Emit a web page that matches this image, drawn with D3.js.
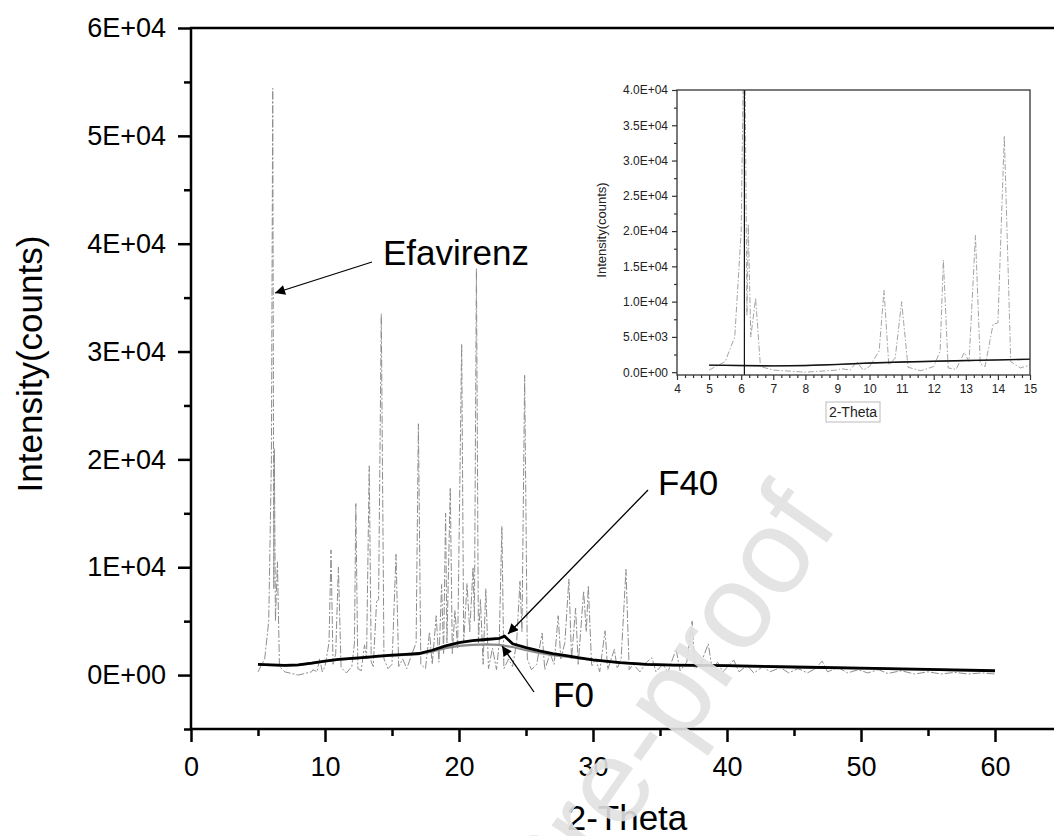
<!DOCTYPE html>
<html>
<head>
<meta charset="utf-8">
<script src="https://cdn.jsdelivr.net/npm/d3@7"></script>
<style>
    body { margin: 0; background: #fff; }
    svg { display: block; font-family: "Liberation Sans", Arial, sans-serif; }
</style>
</head>
<body>
<div id="chart"></div>
<script>
// Efavirenz powder pattern (2-theta, counts)
const effTheta = [5.0, 5.5, 5.8, 6.0, 6.1, 6.18, 6.22, 6.3, 6.45, 6.6, 7.0, 8.0, 9.0, 9.1, 9.4, 9.6, 9.8, 10.0, 10.3, 10.45,
    10.6, 10.8, 11.0, 11.2, 11.6, 12.0, 12.2, 12.3, 12.45, 12.7, 12.95, 13.1, 13.3, 13.45, 13.6, 13.85, 14.0, 14.2, 14.4, 14.7,
    15.0, 15.3, 15.5, 15.8, 16.1, 16.5, 16.8, 16.97, 17.15, 17.5, 17.8, 18.0, 18.3, 18.5, 18.7, 18.85, 19.0, 19.1, 19.35, 19.5,
    19.7, 19.9, 20.2, 20.35, 20.6, 20.8, 21.05, 21.15, 21.3, 21.45, 21.6, 21.8, 22.0, 22.2, 22.5, 22.8, 23.0, 23.2, 23.35, 23.7,
    24.0, 24.3, 24.55, 24.7, 24.9, 25.1, 25.4, 25.8, 26.2, 26.4, 26.8, 27.1, 27.4, 27.6, 27.9, 28.2, 28.4, 28.7, 28.9, 29.3,
    29.5, 29.65, 29.9, 30.2, 30.5, 30.9, 31.1, 31.6, 31.8, 32.1, 32.46, 32.7, 33.0, 33.5, 34.0, 34.4, 34.7, 35.2, 35.6, 36.2,
    36.5, 37.0, 37.4, 37.6, 38.0, 38.6, 38.9, 39.3, 39.7, 40.5, 40.9, 41.5, 42.0, 42.7, 43.2, 44.0, 44.6, 45.3, 46.0, 46.6,
    47.1, 47.5, 48.3, 49.0, 49.8, 50.5, 51.3, 52.0, 53.0, 54.0, 55.0, 56.0, 57.0, 58.0, 59.0, 60.0];
const effCounts = [300, 1500, 5000, 20000, 54400, 8000, 21000, 5000, 10500, 800, 300, 0, 300, 500, 300, 1500, 300, 800, 3000, 11600,
    1000, 2000, 10000, 700, 200, 800, 3000, 15900, 600, 400, 2800, 1500, 19400, 1200, 800, 6800, 7000, 33500, 1500, 600,
    1000, 11200, 800, 1500, 600, 2000, 3000, 23300, 1000, 600, 4000, 1000, 5500, 1200, 8400, 2000, 15000, 3000, 17400, 2000,
    6000, 2500, 30700, 3000, 8500, 4000, 10000, 5000, 37700, 3000, 7000, 1000, 8000, 600, 2500, 500, 3000, 13800, 600, 1500,
    800, 3000, 8700, 4000, 27800, 1500, 500, 1000, 3900, 500, 2000, 1000, 5500, 1500, 3000, 8900, 1500, 6200, 1000, 7800,
    4000, 8300, 800, 1500, 300, 4100, 500, 2400, 600, 1500, 9800, 500, 1000, 300, 1200, 1600, 300, 1000, 300, 2400,
    400, 1200, 5000, 600, 900, 2900, 500, 1200, 300, 1400, 300, 900, 200, 800, 300, 700, 200, 600, 200, 600,
    1300, 300, 700, 200, 500, 200, 500, 150, 400, 100, 300, 100, 250, 100, 200, 100];

// F40 and F0 amorphous profiles
const f40Theta = [5, 6, 7, 8, 9, 10, 11, 12, 13, 14, 15, 16, 17, 18, 19, 20, 21, 22, 23, 23.4, 24, 25, 26, 27, 28, 29, 30, 32, 34, 36, 38, 40, 45, 50, 55, 60];
const f40Counts = [1000, 950, 900, 950, 1100, 1300, 1450, 1550, 1650, 1750, 1850, 1920, 2000, 2300, 2700, 3000, 3200, 3300, 3400, 3600, 2900, 2550, 2250, 2000, 1800, 1600, 1400, 1150, 1000, 930, 900, 880, 750, 640, 520, 400];
const f0Theta = [5, 6, 7, 8, 9, 10, 11, 12, 13, 14, 15, 16, 17, 18, 19, 20, 21, 22, 23, 24, 25, 26, 27, 28, 29, 30, 32, 34, 36, 38, 40, 45, 50, 55, 60];
const f0Counts = [980, 930, 880, 930, 1080, 1280, 1420, 1520, 1620, 1720, 1800, 1870, 1950, 2200, 2500, 2700, 2800, 2850, 2800, 2600, 2300, 2050, 1850, 1700, 1550, 1400, 1150, 1000, 920, 880, 860, 730, 620, 500, 380];

// axis ticks
const mainXTicks = [0, 10, 20, 30, 40, 50, 60];
const mainXMinor = [5, 15, 25, 35, 45, 55];
const mainYTicks = [0, 10000, 20000, 30000, 40000, 50000, 60000];
const mainYLabels = ["0E+00", "1E+04", "2E+04", "3E+04", "4E+04", "5E+04", "6E+04"];
const mainYMinor = [-5000, 5000, 15000, 25000, 35000, 45000, 55000];

const insetXTicks = [4, 5, 6, 7, 8, 9, 10, 11, 12, 13, 14, 15];
const insetYTicks = [0, 5000, 10000, 15000, 20000, 25000, 30000, 35000, 40000];
const insetYLabels = ["0.0E+00", "5.0E+03", "1.0E+04", "1.5E+04", "2.0E+04", "2.5E+04", "3.0E+04", "3.5E+04", "4.0E+04"];
const insetMarkerTheta = 6.1;

const width = 1054, height = 836;

const svg = d3.select("#chart").append("svg")
    .attr("width", width)
    .attr("height", height);

const defs = svg.append("defs");
defs.append("marker")
    .attr("id", "arrow")
    .attr("viewBox", "0 0 10 10")
    .attr("refX", 10).attr("refY", 5)
    .attr("markerUnits", "userSpaceOnUse")
    .attr("markerWidth", 17).attr("markerHeight", 10)
    .attr("orient", "auto")
    .append("path").attr("d", "M0,0 L10,5 L0,10 Z").attr("fill", "#000");

// ---------- main plot ----------
const x = d3.scaleLinear().domain([0, 65]).range([191, 1062]);
const y = d3.scaleLinear().domain([-5000, 60000]).range([729, 28]);

const zip = (a, b) => a.map((v, i) => [v, b[i]]);
const effData = zip(effTheta, effCounts);
const f40Data = zip(f40Theta, f40Counts);
const f0Data = zip(f0Theta, f0Counts);

function styleAxis(g, size) {
    g.select(".domain").remove();
    g.selectAll("line").attr("stroke", "#000").attr("stroke-width", 2.5);
    g.selectAll("text").attr("fill", "#000").style("font-size", size);
}

svg.append("g")
    .attr("transform", "translate(191,0)")
    .call(d3.axisLeft(y).tickValues(mainYTicks).tickFormat((d, i) => mainYLabels[i]).tickSize(13).tickPadding(12))
    .call(g => styleAxis(g, "27px"));
svg.append("g")
    .attr("transform", "translate(191,0)")
    .call(d3.axisLeft(y).tickValues(mainYMinor).tickFormat("").tickSize(7))
    .call(g => styleAxis(g, "27px"));
svg.append("g")
    .attr("transform", "translate(0,729)")
    .call(d3.axisBottom(x).tickValues(mainXTicks).tickSize(13).tickPadding(15))
    .call(g => styleAxis(g, "27px"));
svg.append("g")
    .attr("transform", "translate(0,729)")
    .call(d3.axisBottom(x).tickValues(mainXMinor).tickFormat("").tickSize(7))
    .call(g => styleAxis(g, "27px"));

svg.append("rect")
    .attr("x", x(0)).attr("y", y(60000))
    .attr("width", x(65) - x(0)).attr("height", y(-5000) - y(60000))
    .attr("fill", "none").attr("stroke", "#000").attr("stroke-width", 2.5);

svg.append("text")
    .attr("transform", "translate(42,364) rotate(-90)")
    .attr("text-anchor", "middle")
    .style("font-size", "35px")
    .text("Intensity(counts)");

svg.append("text")
    .attr("x", 627).attr("y", 830)
    .attr("text-anchor", "middle")
    .style("font-size", "35px")
    .text("2-Theta");

const line = d3.line().x(d => x(d[0])).y(d => y(d[1]));

svg.append("path").datum(effData)
    .attr("d", line)
    .attr("fill", "none").attr("stroke", "#8e8e8e").attr("stroke-width", 1)
    .attr("stroke-dasharray", "8,2,2,2");
svg.append("path").datum(f0Data)
    .attr("d", line)
    .attr("fill", "none").attr("stroke", "#8a8a8a").attr("stroke-width", 2.2);
svg.append("path").datum(f40Data)
    .attr("d", line)
    .attr("fill", "none").attr("stroke", "#000").attr("stroke-width", 2.8);

// annotations
const notes = [
    { label: "Efavirenz", tx: 383, ty: 265, from: [372, 262], to: [275, 293] },
    { label: "F40", tx: 658, ty: 495, from: [648, 490], to: [508, 634] },
    { label: "F0", tx: 553, ty: 707, from: [534, 692], to: [502, 646] }
];
notes.forEach(n => {
    svg.append("line")
        .attr("x1", n.from[0]).attr("y1", n.from[1])
        .attr("x2", n.to[0]).attr("y2", n.to[1])
        .attr("stroke", "#000").attr("stroke-width", 1.3)
        .attr("marker-end", "url(#arrow)");
    svg.append("text")
        .attr("x", n.tx).attr("y", n.ty)
        .style("font-size", "35px")
        .text(n.label);
});

// ---------- inset ----------
const ix = d3.scaleLinear().domain([4, 15]).range([677, 1030]);
const iy = d3.scaleLinear().domain([-400, 40000]).range([375, 90]);

const inset = svg.append("g");
inset.append("rect")
    .attr("x", 677).attr("y", 90).attr("width", 353).attr("height", 285)
    .attr("fill", "#fff");

defs.append("clipPath").attr("id", "insetClip")
    .append("rect").attr("x", 677).attr("y", 90).attr("width", 353).attr("height", 285);

const iline = d3.line().x(d => ix(d[0])).y(d => iy(d[1]));
const clipG = inset.append("g").attr("clip-path", "url(#insetClip)");
clipG.append("path").datum(effData.filter(d => d[0] <= 15.2))
    .attr("d", iline)
    .attr("fill", "none").attr("stroke", "#9a9a9a").attr("stroke-width", 0.9)
    .attr("stroke-dasharray", "6,2,1.5,2");
clipG.append("path").datum(f0Data.filter(d => d[0] <= 16))
    .attr("d", iline)
    .attr("fill", "none").attr("stroke", "#777").attr("stroke-width", 1.2);
clipG.append("path").datum(f40Data.filter(d => d[0] <= 16))
    .attr("d", iline)
    .attr("fill", "none").attr("stroke", "#111").attr("stroke-width", 1.4);
clipG.append("line")
    .attr("x1", ix(insetMarkerTheta)).attr("x2", ix(insetMarkerTheta))
    .attr("y1", 90).attr("y2", 375)
    .attr("stroke", "#111").attr("stroke-width", 1.2);

function styleInset(g) {
    g.select(".domain").remove();
    g.selectAll("line").attr("stroke", "#333").attr("stroke-width", 1.2);
    g.selectAll("text").attr("fill", "#222").style("font-size", "12px");
}
const insetYMinor = insetYTicks.slice(0, -1).map(v => v + 2500);
const insetXMinor = [];
insetXTicks.slice(0, -1).forEach(v => [0.25, 0.5, 0.75].forEach(f => insetXMinor.push(v + f)));

inset.append("g").attr("transform", "translate(677,0)")
    .call(d3.axisLeft(iy).tickValues(insetYTicks).tickFormat((d, i) => insetYLabels[i]).tickSize(5).tickPadding(4))
    .call(styleInset);
inset.append("g").attr("transform", "translate(677,0)")
    .call(d3.axisLeft(iy).tickValues(insetYMinor).tickFormat("").tickSize(3))
    .call(styleInset);
inset.append("g").attr("transform", "translate(0,375)")
    .call(d3.axisBottom(ix).tickValues(insetXTicks).tickSize(5).tickPadding(4))
    .call(styleInset);
inset.append("g").attr("transform", "translate(0,375)")
    .call(d3.axisBottom(ix).tickValues(insetXMinor).tickFormat("").tickSize(3))
    .call(styleInset);

inset.append("rect")
    .attr("x", 677).attr("y", 90).attr("width", 353).attr("height", 285)
    .attr("fill", "none").attr("stroke", "#333").attr("stroke-width", 1.3);

inset.append("text")
    .attr("transform", "translate(606,230) rotate(-90)")
    .attr("text-anchor", "middle")
    .style("font-size", "13px")
    .attr("fill", "#222")
    .text("Intensity(counts)");

inset.append("rect")
    .attr("x", 826).attr("y", 402).attr("width", 54).attr("height", 20)
    .attr("fill", "none").attr("stroke", "#bbb").attr("stroke-width", 1);
inset.append("text")
    .attr("x", 853).attr("y", 417)
    .attr("text-anchor", "middle")
    .style("font-size", "14px")
    .attr("fill", "#222")
    .text("2-Theta");

// watermark
svg.append("text")
    .attr("transform", "translate(840,524) rotate(-55)")
    .attr("text-anchor", "end")
    .style("font-size", "120px")
    .attr("fill", "#e2e2e2")
    .attr("opacity", 0.9)
    .text("Journal Pre-proof");
</script>
</body>
</html>
